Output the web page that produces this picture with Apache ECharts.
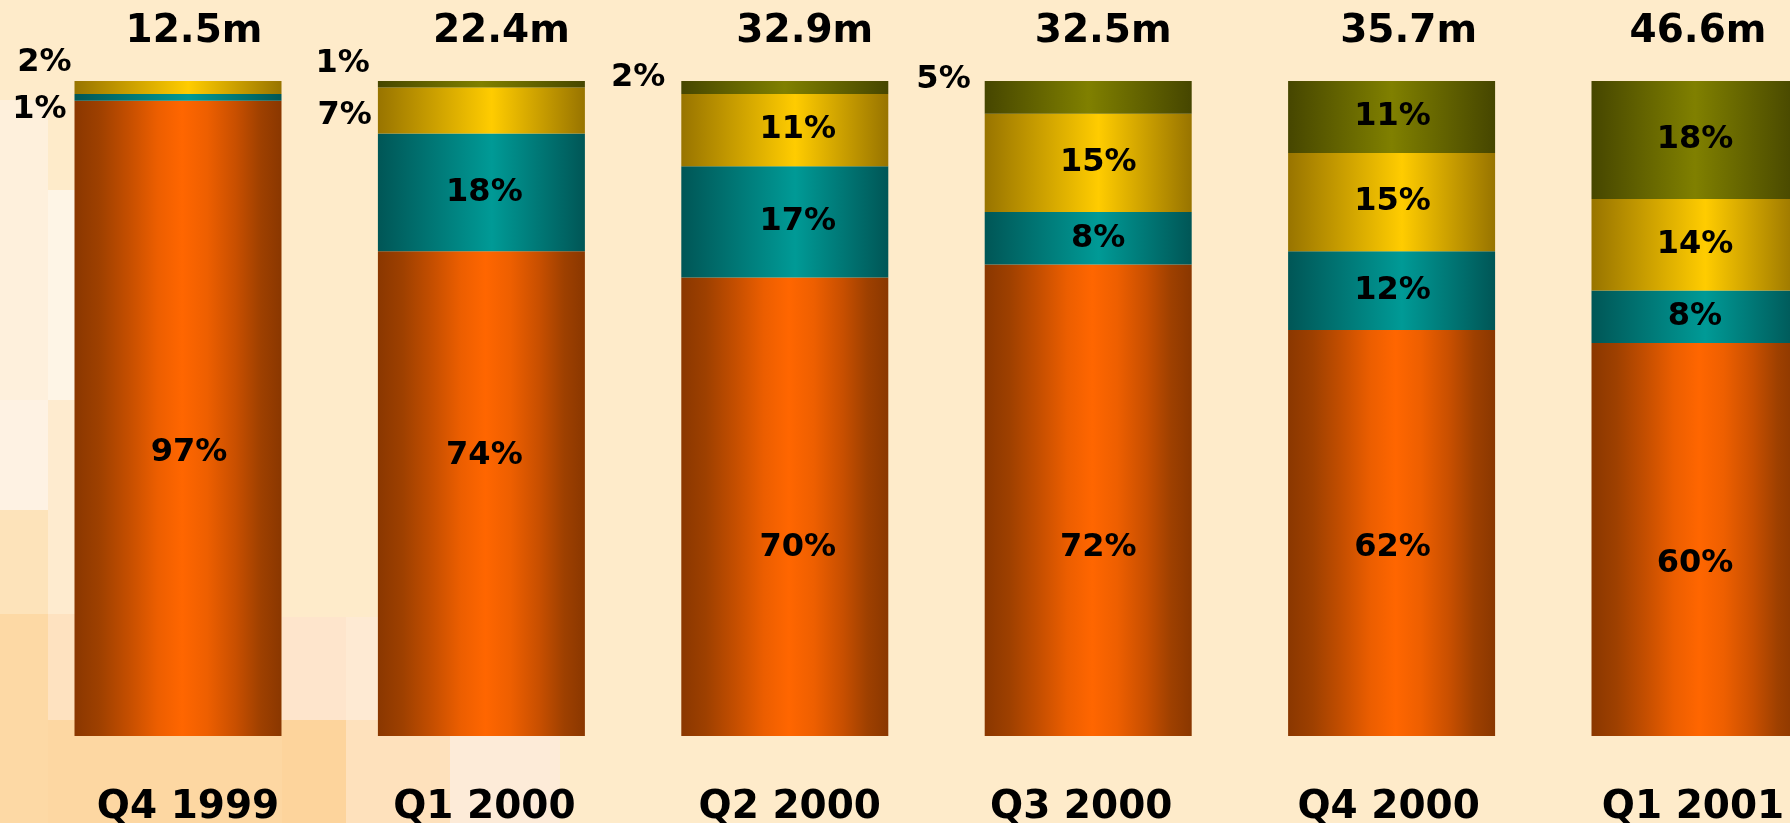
<!DOCTYPE html>
<html>
<head>
<meta charset="utf-8">
<script src="https://cdn.jsdelivr.net/npm/echarts@6/dist/echarts.min.js"></script>
<style>
  html, body { margin: 0; padding: 0; background: #feebca; }
  #chart { width: 1790px; height: 823px; }
</style>
</head>
<body>
<div id="chart"></div>
<script>
// Quarterly totals (millions) and the share of each segment, bottom to top
const categories = ['Q4 1999', 'Q1 2000', 'Q2 2000', 'Q3 2000', 'Q4 2000', 'Q1 2001'];
const totals = [12.5, 22.4, 32.9, 32.5, 35.7, 46.6];
const orangeShare = [97, 74, 70, 72, 62, 60];
const tealShare = [1, 18, 17, 8, 12, 8];
const goldShare = [2, 7, 11, 15, 15, 14];
const oliveShare = [0, 1, 2, 5, 11, 18];

// Label placement tweaks
const insideShift = [11, 3, 13, 10, 1, 0];          // x nudge of in-bar labels per column
const orangeLabelDy = [34, -38, 41, 47, 15, 24];      // vertical nudge of the large bottom labels
const totalShift = [16, 20, 20, 15, 17, 3];           // x nudge of the totals above the bars
const quarterShift = [10, 3, 5, -7, -3, -2];          // x nudge of the quarter names
const sideLabels = {                                  // thin segments labelled beside the bar
  'gold:0': { distance: 3, dy: -25 },
  'teal:0': { distance: 8, dy: 12 },
  'olive:1': { distance: 8, dy: -21 },
  'gold:1': { distance: 6, dy: 5 },
  'olive:2': { distance: 16, dy: -10 },
  'olive:3': { distance: 14, dy: -18 }
};

const FONT = '"DejaVu Sans", Verdana, sans-serif';

function shade(edge, mid, peak) {
  return {
    type: 'linear', x: 0, y: 0, x2: 1, y2: 0,
    colorStops: [
      { offset: 0, color: edge },
      { offset: peak, color: mid },
      { offset: 1, color: edge }
    ]
  };
}

const orangeFill = {
  type: 'linear', x: 0, y: 0, x2: 1, y2: 0,
  colorStops: [
    { offset: 0, color: '#8a3700' },
    { offset: 0.12, color: '#9e4000' },
    { offset: 0.26, color: '#c44e00' },
    { offset: 0.4, color: '#ec5e00' },
    { offset: 0.52, color: '#ff6600' },
    { offset: 0.64, color: '#ee5f00' },
    { offset: 0.78, color: '#c84f00' },
    { offset: 0.9, color: '#9e4000' },
    { offset: 1, color: '#8a3700' }
  ]
};

const segments = [
  { key: 'orange', values: orangeShare, fill: orangeFill },
  { key: 'teal', values: tealShare, fill: shade('#005656', '#009a96', 0.55) },
  { key: 'gold', values: goldShare, fill: shade('#987400', '#ffcc00', 0.55) },
  { key: 'olive', values: oliveShare, fill: shade('#464600', '#808000', 0.5) }
];

const labelBase = {
  color: '#000',
  fontFamily: FONT,
  fontWeight: 'bold',
  fontSize: 32,
  formatter: '{c}%'
};

const series = segments.map(seg => ({
  name: seg.key,
  type: 'bar',
  stack: 'share',
  barWidth: 207,
  clip: false,
  itemStyle: { color: seg.fill },
  emphasis: { disabled: true },
  data: seg.values.map((v, i) => {
    const side = sideLabels[seg.key + ':' + i];
    let label;
    if (v === 0) {
      label = { show: false };
    } else if (side) {
      label = Object.assign({}, labelBase, {
        show: true, position: 'left', distance: side.distance, offset: [0, side.dy]
      });
    } else {
      const dy = seg.key === 'orange' ? orangeLabelDy[i] : 0;
      label = Object.assign({}, labelBase, {
        show: true, position: 'inside', offset: [insideShift[i], dy]
      });
    }
    return { value: v, label: label };
  })
}));

// Rich styles carry the small horizontal nudge of each axis label
function nudgedRich(prefix, shifts, color) {
  const rich = {};
  shifts.forEach((s, i) => {
    rich[prefix + i] = {
      fontFamily: FONT, fontWeight: 'bold', fontSize: 39, color: color,
      padding: s >= 0 ? [0, 0, 0, s * 2] : [0, -s * 2, 0, 0]
    };
  });
  return rich;
}

// Soft mosaic blocks in the page background
const bgBlocks = [
  [0, 100, 48, 300, '#fef0dc'],
  [48, 190, 27, 210, '#fef5e6'],
  [0, 400, 48, 110, '#fef2e3'],
  [48, 400, 27, 214, '#feebcf'],
  [0, 510, 48, 104, '#fde3ba'],
  [0, 614, 48, 209, '#fdd9a5'],
  [48, 614, 27, 106, '#fee2c0'],
  [48, 720, 234, 103, '#fdd7a2'],
  [282, 617, 64, 103, '#fee5cc'],
  [346, 617, 33, 103, '#feead3'],
  [282, 720, 64, 103, '#fdd49c'],
  [346, 720, 104, 103, '#fee1bc'],
  [450, 720, 110, 103, '#fdebd8']
];

const chart = echarts.init(document.getElementById('chart'), null, { renderer: 'canvas' });
chart.setOption({
  backgroundColor: '#feebca',
  animation: false,
  graphic: {
    elements: bgBlocks.map(b => ({
      type: 'rect', silent: true, z: -10,
      shape: { x: b[0], y: b[1], width: b[2], height: b[3] },
      style: { fill: b[4] }
    }))
  },
  // Axis runs from the first to the last bar centre (boundaryGap off)
  grid: {
    left: 178, right: 95, top: 81, bottom: 87,
    containLabel: false, outerBoundsMode: 'none'
  },
  xAxis: [
    {
      type: 'category',
      data: categories,
      boundaryGap: false,
      axisLine: { show: false },
      axisTick: { show: false },
      splitLine: { show: false },
      axisLabel: {
        margin: 52,
        formatter: (val, idx) => '{q' + idx + '|' + val + '}',
        rich: nudgedRich('q', quarterShift, '#000')
      }
    },
    {
      type: 'category',
      position: 'top',
      data: totals.map(t => t.toFixed(1) + 'm'),
      boundaryGap: false,
      axisLine: { show: false },
      axisTick: { show: false },
      splitLine: { show: false },
      axisLabel: {
        margin: 30,
        formatter: (val, idx) => '{t' + idx + '|' + val + '}',
        rich: nudgedRich('t', totalShift, '#000')
      }
    }
  ],
  yAxis: { type: 'value', min: 0, max: 100, show: false },
  series: series
});
</script>
</body>
</html>
